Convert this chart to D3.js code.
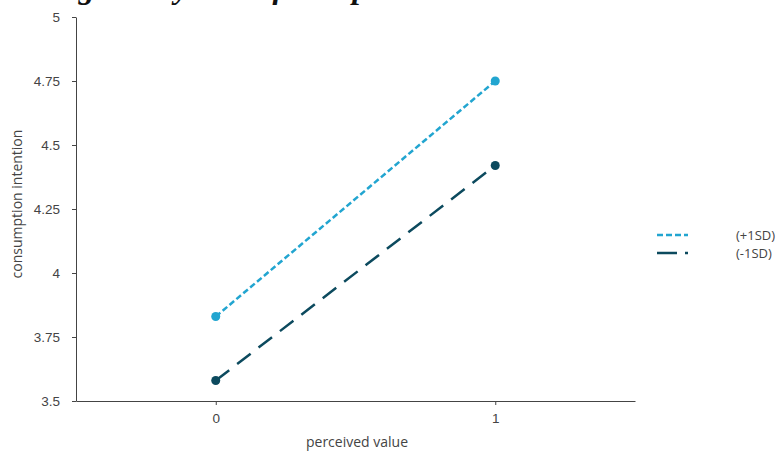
<!DOCTYPE html>
<html lang="en">
<head>
    <meta charset="UTF-8">
    <title>Simple slopes</title>
    <script src="https://d3js.org/d3.v7.min.js"></script>
    <style>
        body {
            margin: 0;
            background: #fff;
            font-family: "Open Sans", "Noto Sans", sans-serif;
        }
        .axis text {
            font-size: 13.5px;
            fill: #444;
        }
        .axis path, .axis line {
            stroke: #444;
        }
        .axis-title {
            font-size: 14px;
            fill: #444;
            text-anchor: middle;
        }
        .legend text {
            font-size: 13px;
            fill: #444;
        }
        .caption {
            font-family: "Liberation Serif", "DejaVu Serif", serif;
            font-style: italic;
            font-weight: bold;
            font-size: 32px;
            fill: #111;
        }
    </style>
</head>
<body>
    <svg id="chart" width="781" height="452" style="display:block"></svg>
    <script>
        var xValues = [0, 1];
        var xTicks = [0, 1];
        var yTicks = [3.5, 3.75, 4, 4.25, 4.5, 4.75, 5];
        var seriesNames = ["(+1SD)", "(-1SD)"];
        var plusSD = [3.83, 4.75];
        var minusSD = [3.58, 4.42];

        var colors = ["#22a5d0", "#0c4a5e"];
        var dashes = ["6,3", "17,10"];

        var svg = d3.select("#chart");

        var x = d3.scaleLinear().domain([-0.5, 1.5]).range([76, 635]);
        var y = d3.scaleLinear().domain([3.5, 5]).range([401, 17]);

        // caption cut off by the top edge, only its descenders show
        var caption = svg.append("text")
            .attr("class", "caption")
            .attr("y", -2)
            .text("negative regulatory role of the spatial distance");
        var prefix = caption.node().getSubStringLength(0, 9);
        caption.attr("x", 52 - prefix);

        svg.append("g")
            .attr("class", "axis")
            .attr("transform", "translate(0," + y(3.5) + ")")
            .call(d3.axisBottom(x).tickValues(xTicks).tickFormat(d3.format("d")).tickSize(4).tickSizeOuter(0).tickPadding(8));

        svg.append("g")
            .attr("class", "axis")
            .attr("transform", "translate(" + x(-0.5) + ",0)")
            .call(d3.axisLeft(y).tickValues(yTicks).tickFormat(function(d) { return String(d); }).tickSize(4).tickSizeOuter(0).tickPadding(12));

        svg.append("text")
            .attr("class", "axis-title")
            .attr("x", 357)
            .attr("y", 447)
            .text("perceived value");

        svg.append("text")
            .attr("class", "axis-title")
            .attr("transform", "translate(22,204) rotate(-90)")
            .text("consumption intention");

        var series = [plusSD, minusSD].map(function(vals, i) {
            return {
                name: seriesNames[i],
                points: xValues.map(function(xv, j) { return {x: xv, y: vals[j]}; })
            };
        });

        var line = d3.line()
            .x(function(d) { return x(d.x); })
            .y(function(d) { return y(d.y); });

        var g = svg.selectAll(".series")
            .data(series)
          .enter().append("g")
            .attr("class", "series");

        g.append("path")
            .attr("d", function(d) { return line(d.points); })
            .attr("fill", "none")
            .attr("stroke", function(d, i) { return colors[i]; })
            .attr("stroke-width", 2.5)
            .attr("stroke-dasharray", function(d, i) { return dashes[i]; });

        g.each(function(d, i) {
            d3.select(this).selectAll("circle")
                .data(d.points)
              .enter().append("circle")
                .attr("cx", function(p) { return x(p.x); })
                .attr("cy", function(p) { return y(p.y); })
                .attr("r", 4.5)
                .attr("fill", colors[i]);
        });

        // legend
        var legend = svg.append("g").attr("class", "legend");
        var item = legend.selectAll("g")
            .data(seriesNames)
          .enter().append("g")
            .attr("transform", function(d, i) { return "translate(657," + (235 + i * 18) + ")"; });

        item.append("line")
            .attr("x1", 0)
            .attr("x2", 31)
            .attr("stroke", function(d, i) { return colors[i]; })
            .attr("stroke-width", 2.5)
            .attr("stroke-dasharray", function(d, i) { return i === 0 ? "6,3" : "20,8"; });

        item.append("text")
            .attr("x", 79)
            .attr("dy", "0.35em")
            .text(function(d) { return d; });
    </script>
</body>
</html>
